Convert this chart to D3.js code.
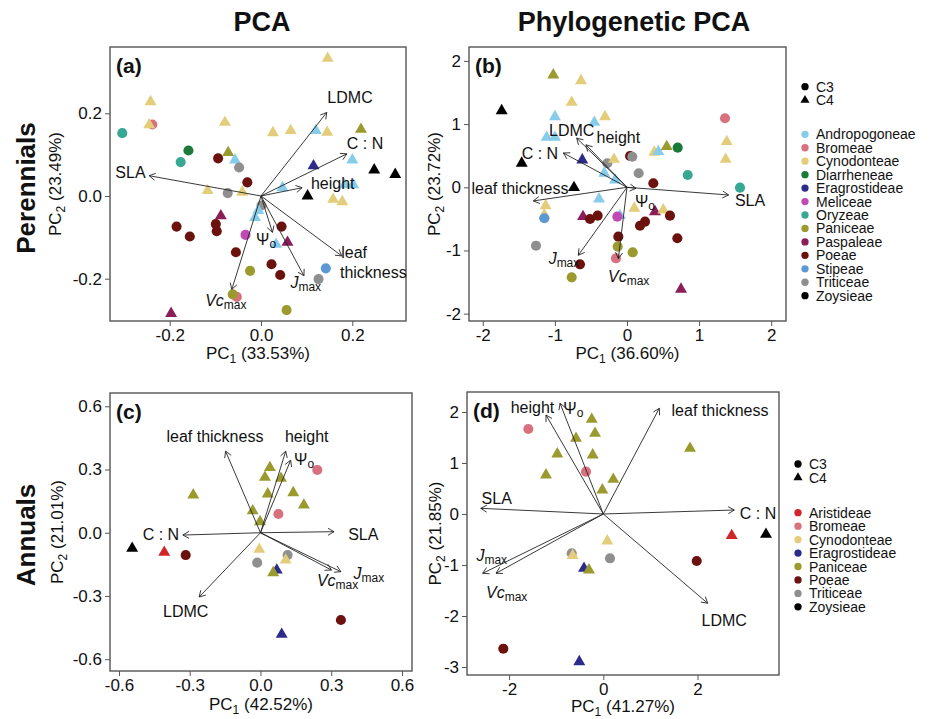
<!DOCTYPE html>
<html>
<head>
<meta charset="utf-8">
<script src="https://cdn.jsdelivr.net/npm/d3@7"></script>
<style>
  body { margin: 0; background: #fff; }
  text { font-family: "Liberation Sans", Arial, Helvetica, sans-serif; fill: #111; }
</style>
</head>
<body>
<svg width="929" height="719"></svg>
<script>
// tribe colours
const tribeColor = {
  Andropogoneae: "#86CCEB", Bromeae: "#D9707E", Cynodonteae: "#E3CD7B",
  Diarrheneae: "#1B7A3A", Eragrostideae: "#2E2A8C", Meliceae: "#C14BB4",
  Oryzeae: "#38A893", Paniceae: "#9B9A2F", Paspaleae: "#8B1E58",
  Poeae: "#6B120E", Stipeae: "#5C98D4", Triticeae: "#8F8F8F",
  Zoysieae: "#000000", Aristideae: "#D0262A"
};
const perennialTribes = ["Andropogoneae","Bromeae","Cynodonteae","Diarrheneae","Eragrostideae","Meliceae","Oryzeae","Paniceae","Paspaleae","Poeae","Stipeae","Triticeae","Zoysieae"];
const annualTribes = ["Aristideae","Bromeae","Cynodonteae","Eragrostideae","Paniceae","Poeae","Triticeae","Zoysieae"];
const pathways = ["C3", "C4"];

// species scores: [tribe, pathway, PC1, PC2]
const perPCA = [
 ["Cynodonteae","C4",0.146,0.333], ["Cynodonteae","C4",-0.242,0.228], ["Bromeae","C3",-0.238,0.173],
 ["Cynodonteae","C4",-0.245,0.172], ["Oryzeae","C3",-0.304,0.152], ["Cynodonteae","C4",-0.079,0.178],
 ["Cynodonteae","C4",0.026,0.153], ["Cynodonteae","C4",0.065,0.158], ["Andropogoneae","C4",0.120,0.158],
 ["Cynodonteae","C4",0.145,0.154], ["Paniceae","C4",0.219,0.161], ["Diarrheneae","C3",-0.159,0.110],
 ["Oryzeae","C3",-0.176,0.082], ["Paniceae","C4",-0.072,0.105], ["Poeae","C3",-0.094,0.091],
 ["Andropogoneae","C4",-0.057,0.087], ["Triticeae","C3",-0.048,0.069], ["Eragrostideae","C4",0.115,0.073],
 ["Andropogoneae","C4",0.200,0.087], ["Zoysieae","C4",0.248,0.063], ["Zoysieae","C4",0.294,0.052],
 ["Poeae","C3",-0.030,0.033], ["Andropogoneae","C4",0.047,0.020], ["Andropogoneae","C4",0.183,0.027],
 ["Andropogoneae","C4",0.202,0.027], ["Zoysieae","C4",0.102,0.000], ["Cynodonteae","C4",0.158,-0.008],
 ["Cynodonteae","C4",0.178,-0.014], ["Cynodonteae","C4",-0.117,0.013], ["Triticeae","C3",-0.073,0.007],
 ["Cynodonteae","C4",-0.041,0.009], ["Triticeae","C3",0.001,-0.023], ["Andropogoneae","C4",-0.006,-0.035],
 ["Andropogoneae","C4",-0.013,-0.052], ["Paspaleae","C4",-0.088,-0.048], ["Poeae","C3",-0.185,-0.074],
 ["Poeae","C3",-0.156,-0.098], ["Poeae","C3",-0.099,-0.068], ["Poeae","C3",-0.097,-0.085],
 ["Meliceae","C3",-0.034,-0.094], ["Poeae","C3",0.045,-0.074], ["Andropogoneae","C4",0.033,-0.117],
 ["Paspaleae","C4",0.058,-0.112], ["Poeae","C3",-0.055,-0.136], ["Poeae","C3",0.023,-0.165],
 ["Poeae","C3",0.042,-0.191], ["Paniceae","C3",-0.024,-0.181], ["Stipeae","C3",0.142,-0.175],
 ["Triticeae","C3",0.126,-0.201], ["Bromeae","C3",-0.053,-0.244], ["Paniceae","C3",-0.062,-0.238],
 ["Paspaleae","C4",-0.197,-0.284], ["Paniceae","C3",0.056,-0.276]
];
const perPhylo = [
 ["Paniceae","C4",-1.022,1.777], ["Cynodonteae","C4",-0.638,1.687], ["Cynodonteae","C4",-0.767,1.345],
 ["Zoysieae","C4",-1.738,1.212], ["Andropogoneae","C4",-0.999,1.117], ["Andropogoneae","C4",-0.453,1.028],
 ["Cynodonteae","C4",-0.305,1.117], ["Bromeae","C3",1.359,1.092], ["Andropogoneae","C4",-1.114,0.791],
 ["Andropogoneae","C4",-0.999,0.791], ["Cynodonteae","C4",1.383,0.722], ["Cynodonteae","C4",1.369,0.443],
 ["Zoysieae","C4",-1.460,0.380], ["Eragrostideae","C4",-0.620,0.432], ["Triticeae","C3",-0.273,0.380],
 ["Cynodonteae","C4",-0.180,0.443], ["Poeae","C3",0.042,0.495], ["Triticeae","C3",0.074,0.484],
 ["Paniceae","C4",0.551,0.643], ["Cynodonteae","C4",0.379,0.554], ["Andropogoneae","C4",0.435,0.564],
 ["Diarrheneae","C3",0.703,0.627], ["Triticeae","C3",0.162,0.222], ["Oryzeae","C3",0.842,0.195],
 ["Andropogoneae","C4",-0.315,0.222], ["Andropogoneae","C4",-0.166,0.116], ["Zoysieae","C4",-0.735,-0.006],
 ["Poeae","C3",0.365,0.063], ["Oryzeae","C3",1.567,-0.006], ["Andropogoneae","C4",-0.388,-0.185],
 ["Cynodonteae","C4",-1.128,-0.291], ["Cynodonteae","C4",-1.147,-0.438], ["Stipeae","C3",-1.147,-0.490],
 ["Paspaleae","C4",-0.610,-0.465], ["Poeae","C3",-0.513,-0.502], ["Poeae","C3",-0.407,-0.449],
 ["Andropogoneae","C4",-0.097,-0.449], ["Meliceae","C3",-0.134,-0.465], ["Cynodonteae","C4",0.101,-0.332],
 ["Paspaleae","C4",0.388,-0.386], ["Cynodonteae","C4",0.504,-0.359], ["Poeae","C3",0.596,-0.449],
 ["Poeae","C3",0.250,-0.544], ["Poeae","C3",0.180,-0.608], ["Poeae","C3",-0.120,-0.781],
 ["Poeae","C3",0.698,-0.807], ["Paniceae","C3",-0.129,-0.939], ["Paniceae","C3",0.079,-1.029],
 ["Triticeae","C3",-1.262,-0.924], ["Bromeae","C3",-0.153,-1.124], ["Poeae","C3",-0.652,-1.219],
 ["Paniceae","C3",-0.767,-1.425], ["Paspaleae","C4",0.749,-1.614]
];
const annPCA = [
 ["Paniceae","C4",-0.285,0.179], ["Paniceae","C4",0.040,0.309], ["Paniceae","C4",0.019,0.263],
 ["Paniceae","C4",0.087,0.258], ["Paniceae","C4",0.031,0.184], ["Paniceae","C4",0.139,0.190],
 ["Paniceae","C4",0.184,0.131], ["Paniceae","C4",-0.033,0.104], ["Paniceae","C4",-0.002,0.052],
 ["Bromeae","C3",0.241,0.298], ["Bromeae","C3",0.076,0.089], ["Zoysieae","C4",-0.544,-0.074],
 ["Aristideae","C4",-0.408,-0.093], ["Poeae","C3",-0.317,-0.106], ["Cynodonteae","C4",-0.005,-0.079],
 ["Triticeae","C3",-0.014,-0.142], ["Triticeae","C3",0.115,-0.106], ["Cynodonteae","C4",0.107,-0.130],
 ["Eragrostideae","C4",0.069,-0.177], ["Paniceae","C4",0.054,-0.190], ["Poeae","C3",0.341,-0.414],
 ["Eragrostideae","C4",0.090,-0.482]
];
const annPhylo = [
 ["Bromeae","C3",-1.592,1.667], ["Paniceae","C4",-0.246,1.857], ["Paniceae","C4",-0.176,1.582],
 ["Paniceae","C4",-0.580,1.484], ["Paniceae","C4",-0.977,1.176], ["Paniceae","C4",-0.225,1.157],
 ["Paniceae","C4",1.841,1.288], ["Bromeae","C3",-0.367,0.830], ["Paniceae","C4",-1.217,0.765],
 ["Paniceae","C4",0.212,0.680], ["Paniceae","C4",-0.021,0.471], ["Aristideae","C4",2.726,-0.425],
 ["Zoysieae","C4",3.454,-0.399], ["Cynodonteae","C4",0.085,-0.529], ["Triticeae","C3",-0.671,-0.771],
 ["Cynodonteae","C4",-0.650,-0.817], ["Triticeae","C3",0.142,-0.869], ["Eragrostideae","C4",-0.410,-1.065],
 ["Paniceae","C4",-0.304,-1.098], ["Poeae","C3",1.983,-0.922], ["Poeae","C3",-2.123,-2.641],
 ["Eragrostideae","C4",-0.510,-2.896]
];

// trait loadings: [trait, PC1, PC2]
const perPCALoad = [["SLA",-0.245,0.049],["LDMC",0.144,0.202],["C : N",0.188,0.102],["height",0.090,0.020],
  ["Psi",0.025,-0.088],["leaf thickness",0.177,-0.145],["Jmax",0.094,-0.193],["Vcmax",-0.064,-0.226]];
const perPhyloLoad = [["LDMC",-0.698,0.778],["height",-0.569,0.672],["C : N",-0.883,0.543],["leaf thickness",-1.299,-0.216],
  ["SLA",1.409,-0.122],["Psi",0.125,-0.016],["Jmax",-0.675,-1.076],["Vcmax",-0.120,-1.128]];
const annPCALoad = [["leaf thickness",-0.148,0.387],["height",0.107,0.387],["Psi",0.128,0.344],["C : N",-0.329,-0.011],
  ["SLA",0.312,0.005],["Vcmax",0.301,-0.177],["Jmax",0.341,-0.185],["LDMC",-0.260,-0.305]];
const annPhyloLoad = [["height",-1.217,1.941],["Psi",-0.919,2.171],["leaf thickness",1.189,2.073],["SLA",-2.603,0.111],
  ["C : N",2.781,0.078],["Jmax",-2.561,-1.163],["Vcmax",-2.278,-1.163],["LDMC",2.216,-1.751]];

// tick values
const ticksA = [-0.2, 0, 0.2];
const ticksB = [-2, -1, 0, 1, 2];
const ticksC = [-0.6, -0.3, 0, 0.3, 0.6];
const ticksDx = [-2, 0, 2];
const ticksDy = [-3, -2, -1, 0, 1, 2];

// panel layout (label centres in data units)
const panels = [
  { id: "(a)", data: perPCA, load: perPCALoad, box: [110, 47, 406, 321], xlY: 38, ylX: 49,
    xd: [-0.3308, 0.3176], yd: [-0.3023, 0.3603], xt: ticksA, yt: ticksA, fmt: d => d.toFixed(1),
    xl: "1", xp: "(33.53%)", yl: "2", yp: "(23.49%)",
    lab: { "SLA": [-0.286,0.056], "LDMC": [0.195,0.237], "C : N": [0.228,0.128], "height": [0.157,0.031],
           "Psi": [0.011,-0.104], "Jmax": [0.098,-0.207], "Vcmax": [-0.077,-0.252],
           "leaf": [0.204,-0.137], "thickness": [0.246,-0.184] } },
  { id: "(b)", data: perPhylo, load: perPhyloLoad, box: [469, 47, 786, 321], xlY: 38, ylX: 29,
    xd: [-2.191, 2.205], yd: [-2.116, 2.22], xt: ticksB, yt: ticksB, fmt: d => String(d),
    xl: "1", xp: "(36.60%)", yl: "2", yp: "(23.72%)",
    lab: { "LDMC": [-0.767,0.891], "height": [-0.120,0.788], "C : N": [-1.207,0.527], "leaf thickness": [-1.484,-0.016],
           "SLA": [1.706,-0.217], "Psi": [0.25,-0.217], "Jmax": [-0.874,-1.119], "Vcmax": [0.023,-1.403] } },
  { id: "(c)", data: annPCA, load: annPCALoad, box: [110, 393, 412, 671], xlY: 39, ylX: 47,
    xd: [-0.638, 0.6425], yd: [-0.656, 0.663], xt: ticksC, yt: ticksC, fmt: d => d.toFixed(1),
    xl: "1", xp: "(42.52%)", yl: "2", yp: "(21.01%)",
    lab: { "leaf thickness": [-0.193,0.456], "height": [0.196,0.456], "Psi": [0.185,0.350], "C : N": [-0.422,-0.006],
           "SLA": [0.436,-0.006], "Vcmax": [0.327,-0.224], "Jmax": [0.460,-0.189], "LDMC": [-0.317,-0.375] } },
  { id: "(d)", data: annPhylo, load: annPhyloLoad, box: [467, 392, 779, 675], xlY: 37, ylX: 26,
    xd: [-2.894, 3.73], yd: [-3.157, 2.392], xt: ticksDx, yt: ticksDy, fmt: d => String(d),
    xl: "1", xp: "(41.27%)", yl: "2", yp: "(21.85%)",
    lab: { "height": [-1.503,2.088], "Psi": [-0.637,2.088], "leaf thickness": [2.478,2.020], "SLA": [-2.263,0.294],
           "C : N": [3.285,0.014], "Jmax": [-2.369,-0.804], "Vcmax": [-2.051,-1.524], "LDMC": [2.567,-2.098] } }
];

const svg = d3.select("svg");
const circle = d3.symbol().type(d3.symbolCircle).size(80);
const tri = d3.symbol().type(d3.symbolTriangle).size(62);

function traitLabel(g, name, x, y) {
  const t = g.append("text").attr("x", x).attr("y", y)
    .attr("text-anchor", "middle").attr("dominant-baseline", "central")
    .style("font-size", "16px");
  if (name === "Jmax" || name === "Vcmax") {
    t.append("tspan").style("font-style", "italic").text(name === "Jmax" ? "J" : "Vc");
    t.append("tspan").attr("dy", 5).style("font-size", "12px").text("max");
  } else if (name === "Psi") {
    t.append("tspan").text("\u03A8");
    t.append("tspan").attr("dy", 5).style("font-size", "12px").text("o");
  } else {
    t.text(name);
  }
}

function arrowPath(x0, y0, x1, y1) {
  const a = Math.atan2(y1 - y0, x1 - x0), L = 7, w = Math.PI / 6;
  const p1 = [x1 - L * Math.cos(a - w), y1 - L * Math.sin(a - w)];
  const p2 = [x1 - L * Math.cos(a + w), y1 - L * Math.sin(a + w)];
  return `M${x0},${y0}L${x1},${y1}M${p1}L${x1},${y1}L${p2}`;
}

panels.forEach(p => {
  const [L, T, R, B] = p.box;
  const x = d3.scaleLinear().domain(p.xd).range([L, R]);
  const y = d3.scaleLinear().domain(p.yd).range([B, T]);
  const g = svg.append("g");

  // axes
  const ax = g.append("g").attr("transform", `translate(0,${B})`)
    .call(d3.axisBottom(x).tickValues(p.xt).tickFormat(p.fmt).tickSize(5).tickPadding(3));
  const ay = g.append("g").attr("transform", `translate(${L},0)`)
    .call(d3.axisLeft(y).tickValues(p.yt).tickFormat(p.fmt).tickSize(5).tickPadding(3));
  [ax, ay].forEach(a => {
    a.select(".domain").remove();
    a.selectAll("line").attr("stroke", "#555");
    a.selectAll("text").style("font-size", "17px").attr("fill", "#222")
      .style("font-family", "'Liberation Sans', Arial, sans-serif");
  });

  g.append("rect").attr("x", L).attr("y", T).attr("width", R - L).attr("height", B - T)
    .attr("fill", "none").attr("stroke", "#555").attr("stroke-width", 1.4);

  // axis titles
  const xt = g.append("text").attr("x", (L + R) / 2).attr("y", B + p.xlY)
    .attr("text-anchor", "middle").style("font-size", "17px").attr("fill", "#222");
  xt.append("tspan").text("PC");
  xt.append("tspan").attr("dy", 4).style("font-size", "12px").text(p.xl);
  xt.append("tspan").attr("dy", -4).text(" " + p.xp);

  const ycx = L - p.ylX, ycy = (T + B) / 2;
  const yt = g.append("text").attr("transform", `translate(${ycx},${ycy}) rotate(-90)`)
    .attr("text-anchor", "middle").style("font-size", "17px").attr("fill", "#222");
  yt.append("tspan").text("PC");
  yt.append("tspan").attr("dy", 4).style("font-size", "12px").text(p.yl);
  yt.append("tspan").attr("dy", -4).text(" " + p.yp);

  // points
  g.append("g").selectAll("path").data(p.data).join("path")
    .attr("transform", d => `translate(${x(d[2])},${y(d[3])})`)
    .attr("d", d => d[1] === "C3" ? circle() : tri())
    .attr("fill", d => tribeColor[d[0]]);

  // loading arrows
  g.append("g").selectAll("path").data(p.load).join("path")
    .attr("d", d => arrowPath(x(0), y(0), x(d[1]), y(d[2])))
    .attr("fill", "none").attr("stroke", "#222").attr("stroke-width", 0.9);

  const lg = g.append("g");
  p.load.forEach(d => {
    if (p.lab[d[0]]) {
      const c = p.lab[d[0]];
      traitLabel(lg, d[0], x(c[0]), y(c[1]));
    } else {
      ["leaf", "thickness"].forEach(w => {
        const c = p.lab[w];
        traitLabel(lg, w, x(c[0]), y(c[1]));
      });
    }
  });

  g.append("text").attr("x", L + 6).attr("y", T + 26).style("font-size", "21px")
    .style("font-weight", "bold").text(p.id);
});

// column and row titles
svg.append("text").attr("x", 262).attr("y", 31).attr("text-anchor", "middle")
  .style("font-size", "27px").style("font-weight", "bold").text("PCA");
svg.append("text").attr("x", 634).attr("y", 31).attr("text-anchor", "middle")
  .style("font-size", "27px").style("font-weight", "bold").text("Phylogenetic PCA");
svg.append("text").attr("transform", "translate(35,188) rotate(-90)").attr("text-anchor", "middle")
  .style("font-size", "26px").style("font-weight", "bold").text("Perennials");
svg.append("text").attr("transform", "translate(35,535) rotate(-90)").attr("text-anchor", "middle")
  .style("font-size", "26px").style("font-weight", "bold").text("Annuals");

// legends
function legend(x0, yPath, yTribe, tribes) {
  const g = svg.append("g");
  const sc = d3.symbol().type(d3.symbolCircle).size(42);
  const st = d3.symbol().type(d3.symbolTriangle).size(36);
  pathways.forEach((pw, i) => {
    const yy = yPath + i * 13.5;
    g.append("path").attr("transform", `translate(${x0},${yy})`).attr("d", pw === "C3" ? sc() : st()).attr("fill", "#000");
    g.append("text").attr("x", x0 + 11).attr("y", yy).attr("dominant-baseline", "central")
      .style("font-size", "14px").text(pw);
  });
  tribes.forEach((t, i) => {
    const yy = yTribe + i * 13.45;
    g.append("path").attr("transform", `translate(${x0},${yy})`).attr("d", sc()).attr("fill", tribeColor[t]);
    g.append("text").attr("x", x0 + 11).attr("y", yy).attr("dominant-baseline", "central")
      .style("font-size", "14px").text(t);
  });
}
legend(805, 86.7, 134.3, perennialTribes);
legend(798, 464, 512.7, annualTribes);
</script>
</body>
</html>
